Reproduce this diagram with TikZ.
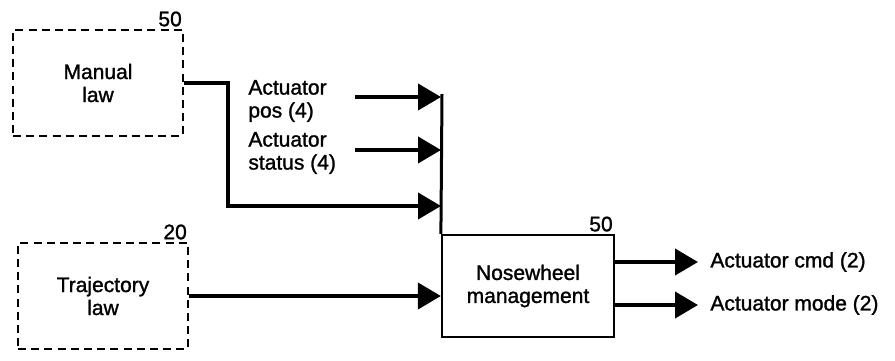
\documentclass[tikz,border=0pt]{standalone}
\usepackage{fontspec}
\setmainfont{Liberation Sans}[FakeBold=1.3]
\usetikzlibrary{arrows.meta}

\tikzset{
  lawbox/.style={draw,dashed,dash pattern=on 4pt off 2.6pt,line width=1.2pt,
    minimum width=85pt,minimum height=53pt,align=center,inner sep=0pt},
  mgtbox/.style={draw,line width=1.1pt,minimum width=86pt,minimum height=51pt,
    align=center,inner sep=0pt},
  flow/.style={line width=2pt,-{Triangle[length=11.5pt,width=13pt]}},
  sig/.style={align=left,inner sep=0pt,font=\fontsize{10.5}{11.5}\selectfont},
  num/.style={inner sep=1pt,anchor=south east,font=\fontsize{10.5}{11}\selectfont}
}

\begin{document}
\begin{tikzpicture}[x=0.5pt,y=-0.5pt,font=\fontsize{10.5}{11.5}\selectfont]
\useasboundingbox (0,0) rectangle (895,360);

% laws
\node[lawbox] (manual) at (98,83) {Manual\\law};
\node[num] at (manual.north east) {50};
\node[lawbox] (traj) at (103,296) {Trajectory\\law};
\node[num] at (traj.north east) {20};

% nosewheel block
\node[mgtbox] (nose) at (528,286) {Nosewheel\\management};
\node[num] at (nose.north east) {50};

% input bus
\coordinate (bustop) at (442,94);
\coordinate (inpos) at (441,97);
\coordinate (instat) at (441,150);
\coordinate (inman) at (441,206);
\coordinate (srcpos) at (355,97);
\coordinate (srcstat) at (355,150);
\draw[line width=1.5pt] (bustop)--(nose.north west);

\node[sig,anchor=west] (lpos) at (248,101) {Actuator\\pos (4)};
\node[sig,anchor=west] (lstat) at (248,153) {Actuator\\status (4)};
\draw[flow] (srcpos)--(inpos);
\draw[flow] (srcstat)--(instat);
\draw[flow] (manual.east)--++(44,0)|-(inman);
\draw[flow] (traj.east)--(nose.west|-traj.east);

% outputs
\coordinate (outcmd) at (nose.east|-0,262);
\coordinate (outmode) at (nose.east|-0,305);
\node[sig,anchor=west] (lcmd) at (710,262) {Actuator cmd (2)};
\node[sig,anchor=west] (lmode) at (710,305) {Actuator mode (2)};
\draw[flow] (outcmd)--([xshift=-6pt]lcmd.west);
\draw[flow] (outmode)--([xshift=-6pt]lmode.west);

\end{tikzpicture}
\end{document}
